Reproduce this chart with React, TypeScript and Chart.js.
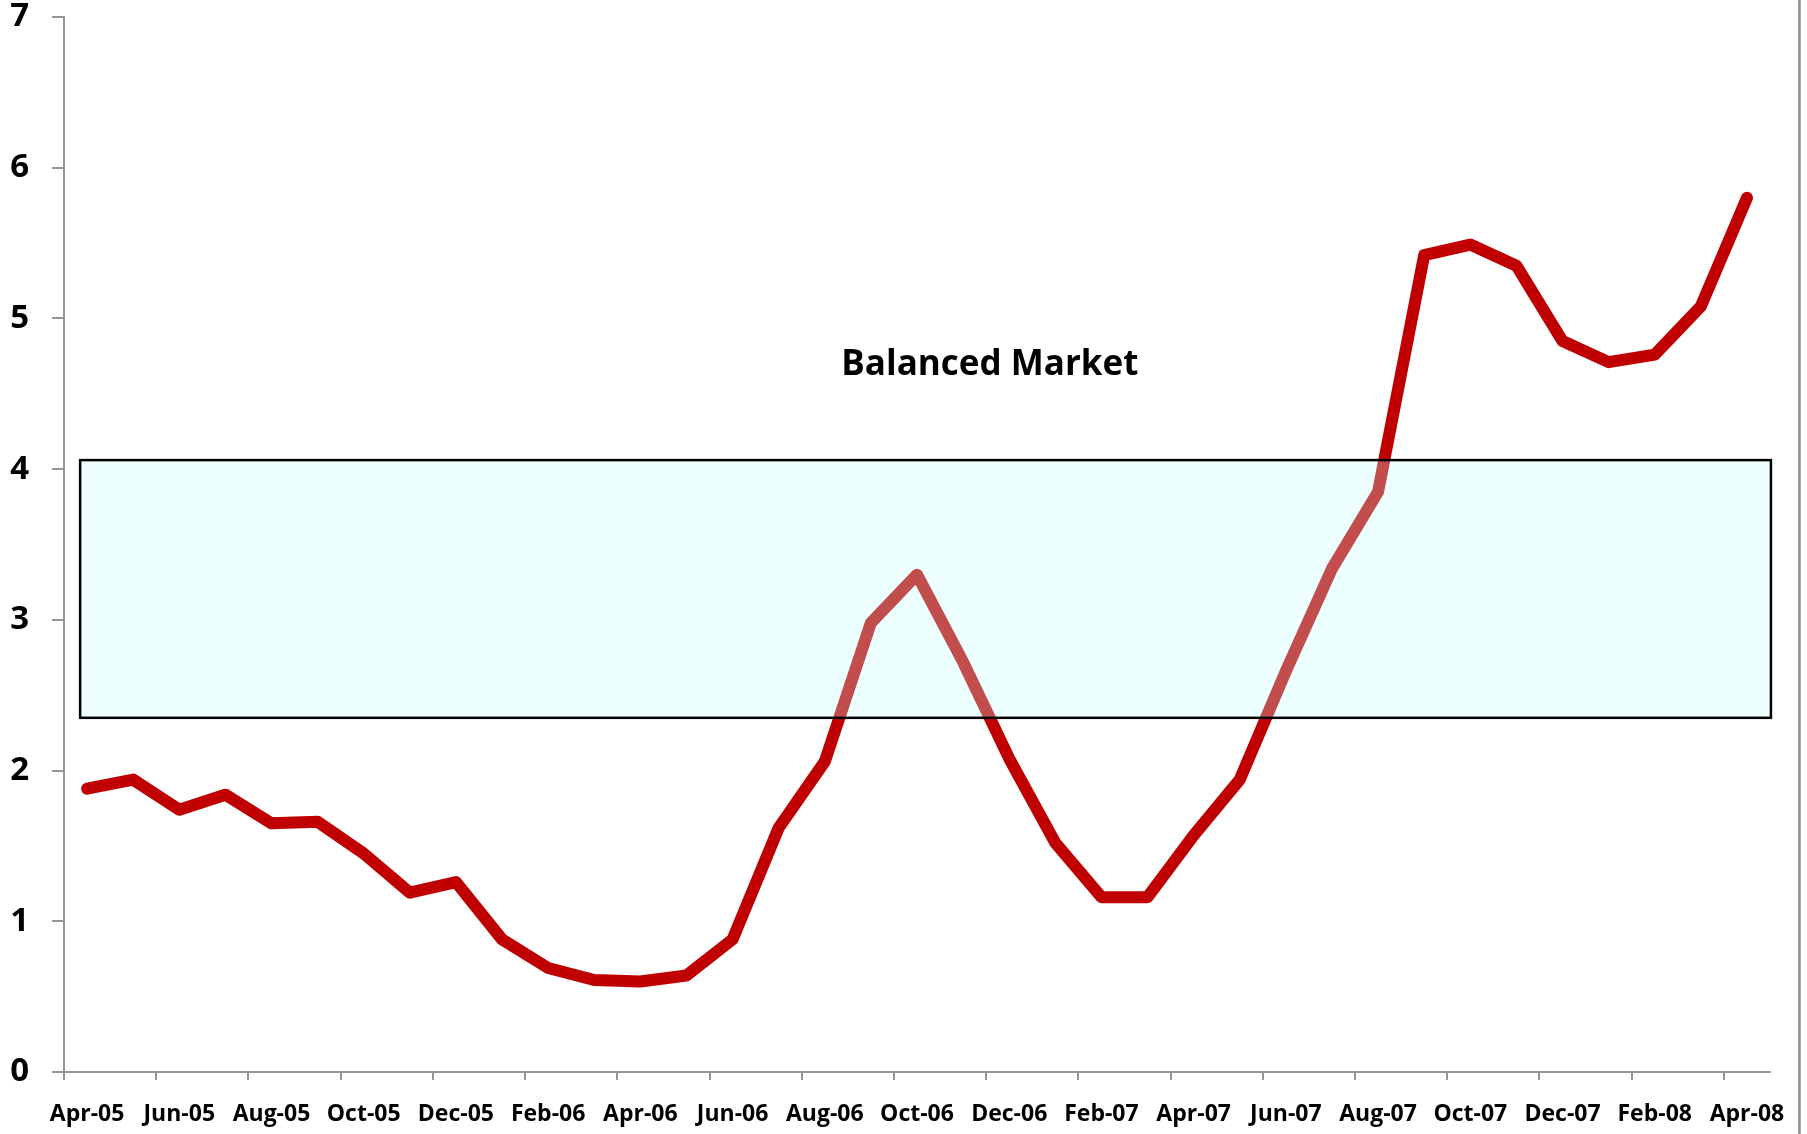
import React, { useEffect, useRef } from 'react';
import { Chart, registerables } from 'chart.js';

Chart.register(...registerables);

const categories = [
  'Apr-05', 'May-05', 'Jun-05', 'Jul-05', 'Aug-05', 'Sep-05', 'Oct-05', 'Nov-05', 'Dec-05',
  'Jan-06', 'Feb-06', 'Mar-06', 'Apr-06', 'May-06', 'Jun-06', 'Jul-06', 'Aug-06', 'Sep-06',
  'Oct-06', 'Nov-06', 'Dec-06', 'Jan-07', 'Feb-07', 'Mar-07', 'Apr-07', 'May-07', 'Jun-07',
  'Jul-07', 'Aug-07', 'Sep-07', 'Oct-07', 'Nov-07', 'Dec-07', 'Jan-08', 'Feb-08', 'Mar-08',
  'Apr-08',
];

const monthsSupply = [
  1.88, 1.94, 1.74, 1.84, 1.65, 1.66, 1.45, 1.19, 1.26,
  0.88, 0.69, 0.61, 0.60, 0.64, 0.88, 1.62, 2.06, 2.98,
  3.30, 2.72, 2.08, 1.52, 1.16, 1.16, 1.57, 1.94, 2.66,
  3.34, 3.85, 5.42, 5.49, 5.35, 4.85, 4.71, 4.76, 5.08,
  5.80,
];

const yTickValues = [0, 1, 2, 3, 4, 5, 6, 7];

const bandLow = 2.35;
const bandHigh = 4.06;
const bandStart = -0.15;
const bandEnd = 36.52;
const bandLabel = 'Balanced Market';
const bandLabelX = 19.58;
const bandLabelY = 4.69;

const FONT = '"Open Sans", Lato, sans-serif';
const AXIS_GRAY = '#969696';

const bandPlugin = {
  id: 'bandPlugin',
  afterDatasetsDraw(chart: any) {
    const { ctx } = chart;
    const xs = chart.scales.x;
    const ys = chart.scales.y;
    const x1 = xs.getPixelForValue(bandStart);
    const x2 = xs.getPixelForValue(bandEnd);
    const y1 = ys.getPixelForValue(bandHigh);
    const y2 = ys.getPixelForValue(bandLow);
    ctx.save();
    ctx.fillStyle = 'rgba(200,255,255,0.3)';
    ctx.fillRect(x1, y1, x2 - x1, y2 - y1);
    ctx.strokeStyle = '#000000';
    ctx.lineWidth = 2.5;
    ctx.strokeRect(x1, y1, x2 - x1, y2 - y1);

    ctx.fillStyle = '#000000';
    ctx.font = `bold 35px ${FONT}`;
    ctx.textAlign = 'center';
    ctx.textBaseline = 'middle';
    ctx.fillText(bandLabel, xs.getPixelForValue(bandLabelX), ys.getPixelForValue(bandLabelY));

    // outer frame right edge
    ctx.strokeStyle = '#8c8c8c';
    ctx.lineWidth = 2.5;
    ctx.beginPath();
    ctx.moveTo(chart.width - 7.5, 0);
    ctx.lineTo(chart.width - 7.5, chart.height);
    ctx.stroke();
    ctx.restore();
  },
};

export default function App() {
  const ref = useRef<HTMLCanvasElement | null>(null);

  useEffect(() => {
    if (!ref.current) return;
    const chart = new Chart(ref.current, {
      type: 'line',
      data: {
        labels: categories,
        datasets: [
          {
            data: monthsSupply,
            borderColor: '#C00000',
            borderWidth: 12,
            pointRadius: 0,
            tension: 0,
            borderJoinStyle: 'round',
            borderCapStyle: 'round',
            fill: false,
          },
        ],
      },
      options: {
        animation: false,
        responsive: false,
        devicePixelRatio: 1,
        layout: { padding: { top: 17, right: 37, bottom: 0, left: 0 } },
        plugins: {
          legend: { display: false },
          tooltip: { enabled: false },
          title: { display: false },
        },
        scales: {
          x: {
            type: 'category',
            offset: true,
            afterFit: (s: any) => {
              s.height = 62;
            },
            grid: {
              offset: true,
              drawOnChartArea: false,
              drawTicks: true,
              tickLength: 8,
              lineWidth: 2,
              color: (c: any) => (c.index % 2 === 0 ? AXIS_GRAY : 'rgba(0,0,0,0)'),
            },
            border: { display: true, color: AXIS_GRAY, width: 2 },
            ticks: {
              autoSkip: false,
              maxRotation: 0,
              minRotation: 0,
              padding: 21,
              color: '#000000',
              font: { family: FONT, size: 23, weight: 'bold' },
              callback: (_v: any, i: number) => (i % 2 === 0 ? categories[i] : ''),
            },
          },
          y: {
            min: yTickValues[0],
            max: yTickValues[yTickValues.length - 1],
            afterFit: (s: any) => {
              s.width = 64;
              s.paddingTop = 0;
              s.paddingBottom = 0;
            },
            afterBuildTicks: (s: any) => {
              s.ticks = yTickValues.map((v) => ({ value: v }));
            },
            grid: {
              drawOnChartArea: false,
              drawTicks: true,
              tickLength: 12,
              lineWidth: 2,
              color: AXIS_GRAY,
            },
            border: { display: true, color: AXIS_GRAY, width: 2 },
            ticks: {
              padding: 23,
              color: '#000000',
              font: { family: FONT, size: 33, weight: 'bold', lineHeight: 1 },
            },
          },
        },
      },
      plugins: [bandPlugin],
    });
    return () => chart.destroy();
  }, []);

  return (
    <canvas
      ref={ref}
      width={1807}
      height={1134}
      style={{ position: 'absolute', left: 0, top: 0, width: 1807, height: 1134 }}
    />
  );
}
